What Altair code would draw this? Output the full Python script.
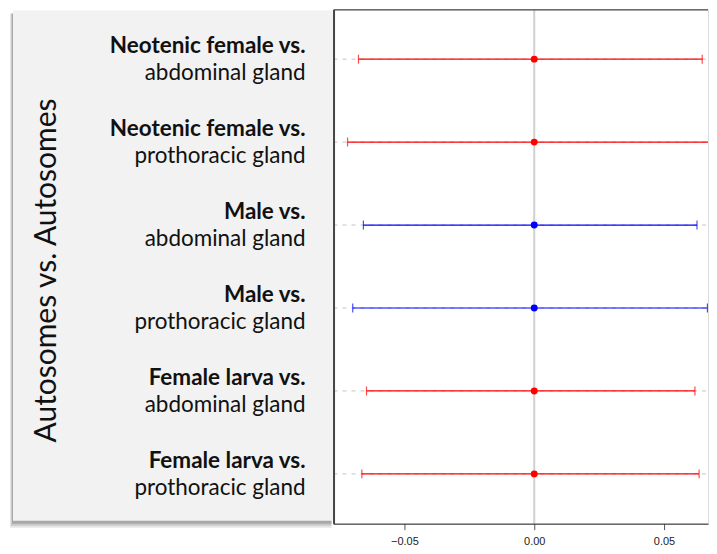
import altair as alt
import pandas as pd

bold_lines = ["Neotenic female vs.", "Neotenic female vs.", "Male vs.", "Male vs.",
              "Female larva vs.", "Female larva vs."]
tissue_lines = ["abdominal gland", "prothoracic gland", "abdominal gland",
                "prothoracic gland", "abdominal gland", "prothoracic gland"]
caste = ["Female", "Female", "Male", "Male", "Female", "Female"]
estimate = [0.0, 0.0, 0.0, 0.0, 0.0, 0.0]
ci_low = [-0.0677, -0.0719, -0.0658, -0.0699, -0.0646, -0.0664]
ci_high = [0.0647, 0.0685, 0.0627, 0.0667, 0.0619, 0.0635]
x_ticks = [-0.05, 0.0, 0.05]
x_domain = [-0.0773, 0.06693]
title_text = "Autosomes vs. Autosomes"

comparison = [f"{b} {t}" for b, t in zip(bold_lines, tissue_lines)]
df = pd.DataFrame({
    "comparison": comparison,
    "bold": bold_lines,
    "tissue": tissue_lines,
    "caste": caste,
    "estimate": estimate,
    "low": ci_low,
    "high": ci_high,
})

W, H = 375, 515
FONT = "Lato"

yscale = alt.Scale(type="point", domain=comparison, padding=0.6)
xscale = alt.Scale(domain=x_domain, nice=False, zero=False)
cscale = alt.Scale(domain=["Female", "Male"], range=["#ff0000", "#0000ff"])

one = alt.Data(values=[{}])

shadows = []
for op, dx, dy in [(0.10, 3, 7), (0.12, 2, 5), (0.16, 1, 3)]:
    shadows.append(
        alt.Chart(one).mark_rect(color="#000000", opacity=op).encode(
            x=alt.value(-321 - dx), x2=alt.value(-2),
            y=alt.value(4), y2=alt.value(512 + dy)))
panel = alt.Chart(one).mark_rect(color="#f2f2f2").encode(
    x=alt.value(-321), x2=alt.value(0), y=alt.value(1), y2=alt.value(512))

base = alt.Chart(df)

grid = base.mark_rule(strokeDash=[4, 5], color="#c4c4c4", strokeWidth=1).encode(
    x=alt.value(0), x2=alt.value(W),
    y=alt.Y("comparison:O", scale=yscale,
            axis=alt.Axis(labels=False, ticks=False, grid=False, domain=True,
                          domainColor="#444444", domainWidth=2, zindex=1,
                          title=title_text, titleFont=FONT, titleFontSize=30,
                          titleFontWeight="normal", titleColor="#111111",
                          titleX=-278, titleY=261, titleBaseline="alphabetic",
                          titleAngle=-90, titleAlign="center")),
)

zero_line = alt.Chart(alt.Data(values=[{"v": 0.0}])).mark_rule(
    color="#d0d0d0", strokeWidth=2).encode(
    x=alt.X("v:Q", scale=xscale,
            axis=alt.Axis(values=x_ticks, format=".2f", title=None,
                          labelFont="Liberation Sans", labelFontSize=11,
                          labelColor="#222222", tickColor="#555555", tickSize=6,
                          labelPadding=6, domainColor="#222222", domainWidth=1,
                          grid=False, labelFlush=False, zindex=1)),
)

top_border = alt.Chart(one).mark_rule(color="#222222", strokeWidth=1).encode(
    x=alt.value(0), x2=alt.value(W), y=alt.value(0.5))

bars = base.mark_rule(strokeWidth=1.2, clip=True).encode(
    x=alt.X("low:Q", scale=xscale),
    x2="high:Q",
    y=alt.Y("comparison:O", scale=yscale),
    color=alt.Color("caste:N", scale=cscale, legend=None),
)
cap_lo = base.mark_tick(thickness=1.2, size=9, orient="vertical", clip=True).encode(
    x=alt.X("low:Q", scale=xscale),
    y=alt.Y("comparison:O", scale=yscale),
    color=alt.Color("caste:N", scale=cscale, legend=None),
)
cap_hi = base.mark_tick(thickness=1.2, size=9, orient="vertical", clip=True).encode(
    x=alt.X("high:Q", scale=xscale),
    y=alt.Y("comparison:O", scale=yscale),
    color=alt.Color("caste:N", scale=cscale, legend=None),
)
pts = base.mark_point(filled=True, size=48, opacity=1).encode(
    x=alt.X("estimate:Q", scale=xscale),
    y=alt.Y("comparison:O", scale=yscale),
    color=alt.Color("caste:N", scale=cscale, legend=None),
)

lab_bold = base.mark_text(align="right", baseline="middle", dy=-13, font=FONT,
                          fontSize=22.5, fontWeight="bold", color="#111111").encode(
    x=alt.value(-28), y=alt.Y("comparison:O", scale=yscale), text="bold:N")
lab_norm = base.mark_text(align="right", baseline="middle", dy=14, font=FONT,
                          fontSize=22.5, fontWeight="normal", color="#111111").encode(
    x=alt.value(-28), y=alt.Y("comparison:O", scale=yscale), text="tissue:N")

chart = alt.layer(
    *shadows, panel, grid, zero_line, top_border,
    bars, cap_lo, cap_hi, pts, lab_bold, lab_norm,
).properties(
    width=W, height=H,
    padding={"left": 2, "top": 0, "right": 0, "bottom": 0},
).configure_view(stroke=None).configure(background="white")

chart.save("out.html", embed_options={"renderer": "svg", "actions": False})
